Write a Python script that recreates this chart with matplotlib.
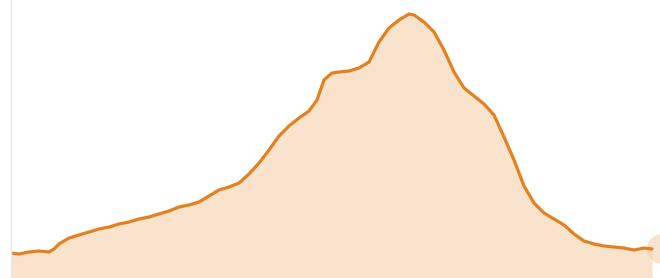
import numpy as np
import matplotlib.pyplot as plt
from matplotlib.patches import Ellipse

# sampled position along the x axis and height of the curve
pos = [0, 8, 18, 28, 38, 43, 48, 58, 68, 78, 88, 98, 108, 118, 128, 138,
       148, 158, 168, 178, 188, 198, 208, 218, 228, 238, 248, 258, 268, 278,
       288, 298, 306, 313, 321, 328, 338, 348, 358, 368, 378, 388, 398, 403,
       413, 423, 433, 443, 453, 463, 473, 483, 493, 503, 513, 523, 533, 543,
       553, 563, 573, 583, 593, 603, 613, 623, 633, 641]
val = [25, 24, 26, 27, 26, 29, 34, 40, 43, 46, 49, 51, 54, 56, 59, 61,
       64, 67, 71, 73, 76, 82, 88, 91, 95, 104, 115, 128, 142, 152,
       160, 167, 178, 198, 205, 206, 207, 210, 216, 236, 250, 258, 264, 263,
       256, 246, 228, 206, 190, 182, 174, 163, 141, 118, 92, 75, 65, 59,
       53, 44, 37, 34, 32, 31, 30, 28, 30, 29]

line_col = "#e5801c"
fill_col = "#fae3cc"

fig = plt.figure(figsize=(6.6, 2.78), dpi=100)
ax = fig.add_axes([11/660, 0, 649/660, 1])
ax.fill_between(pos, val, 0, color=fill_col, lw=0)
ax.plot(pos, val, color=line_col, lw=2.3, solid_capstyle="round",
        solid_joinstyle="round")
ax.set_xlim(0, 649)
ax.set_ylim(0, 278)
# hover marker, cut by the right edge
ax.add_patch(Ellipse((pos[-1] + 10, val[-1]), 30, 30, color="#f3c9a0",
                     alpha=0.5, lw=0, clip_on=False))
for s in ["top", "right", "bottom"]:
    ax.spines[s].set_visible(False)
ax.spines["left"].set_color("#e8e8e8")
ax.spines["left"].set_linewidth(1)
ax.set_xticks([])
ax.set_yticks([])
fig.savefig("out.png", dpi=100)
